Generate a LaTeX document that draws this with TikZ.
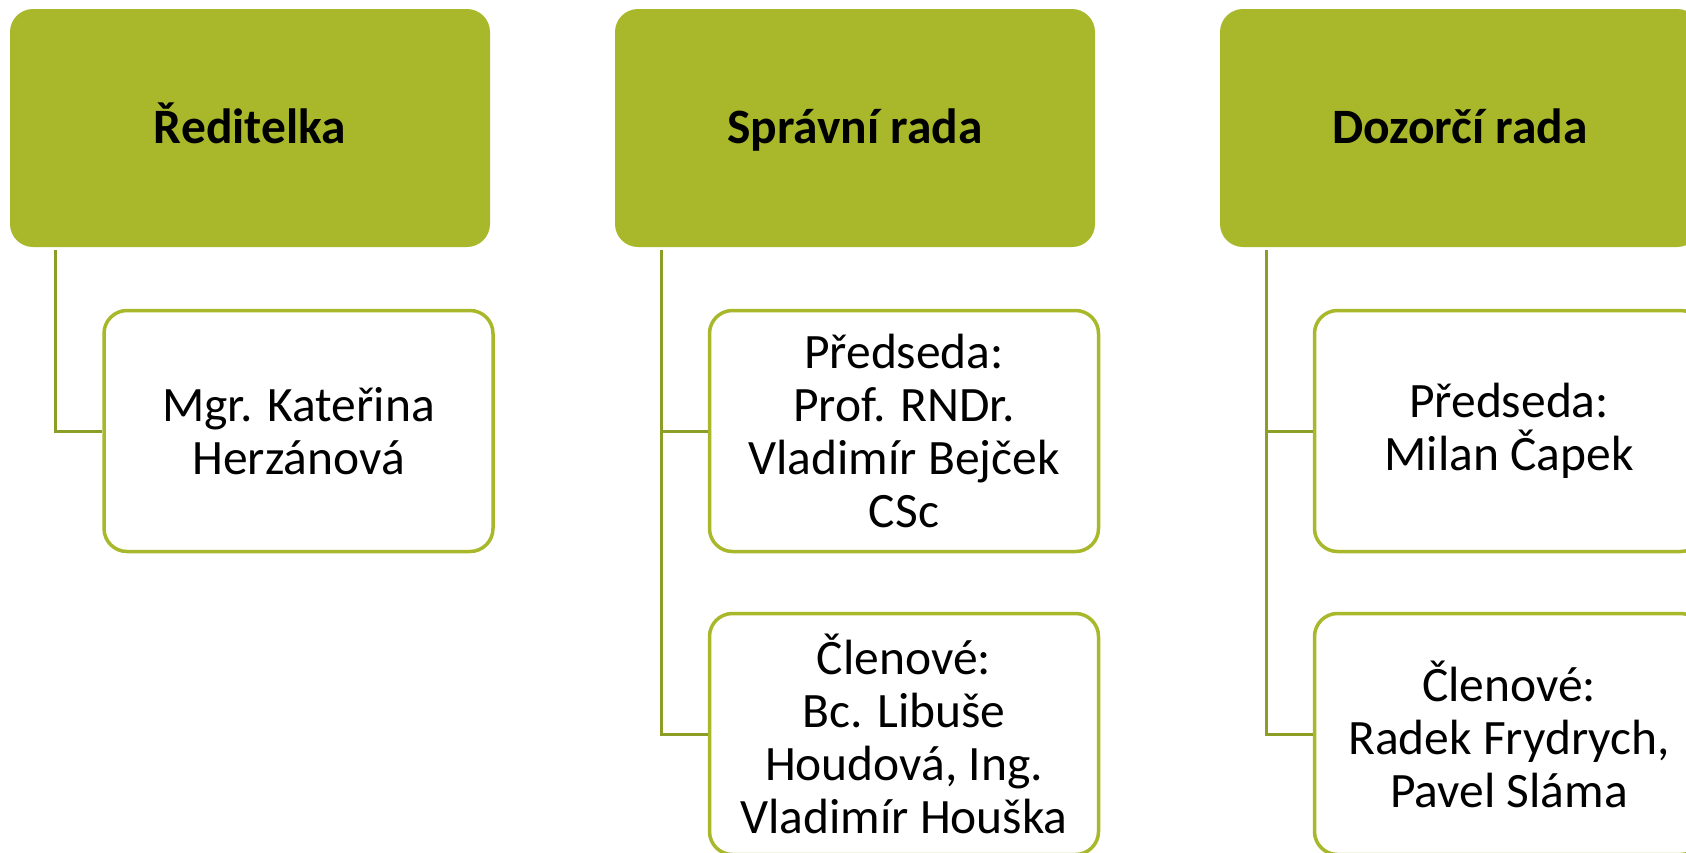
\documentclass[tikz,border=0pt]{standalone}
\usepackage{fontspec}
\setmainfont{Carlito}
\definecolor{gfill}{HTML}{A8B82A}
\definecolor{gline}{HTML}{8C9E25}
\begin{document}
\begin{tikzpicture}[x=1pt,y=-1pt,
  titlebox/.style={draw=none,fill=gfill,rounded corners=23pt,minimum width=480pt,minimum height=238pt,inner sep=0pt,text height=40pt,text depth=10pt,font=\fontsize{49.5}{53}\selectfont\bfseries,align=center},
  childbox/.style={draw=gfill,line width=3.5pt,fill=white,rounded corners=23pt,minimum width=389pt,minimum height=241pt,inner sep=0pt,font=\fontsize{49.5}{53}\selectfont,align=center},
  conn/.style={draw=gline,line width=3pt}]
\useasboundingbox (0,0) rectangle (1686,852);
\clip (0,0) rectangle (1686,852);
% titles
\node[titlebox] (t1) at (250,128) {Ředitelka};
\node[titlebox] (t2) at (855,128) {Správní rada};
\node[titlebox] (t3) at (1460,128) {Dozorčí rada};
% children
\node[childbox] (c1) at (298.5,431) {Mgr. Kateřina\\Herzánová};
\node[childbox] (c2a) at (904,431) {Předseda:\\Prof. RNDr.\\Vladimír Bejček\\CSc};
\node[childbox] (c2b) at (904,734) {Členové:\\Bc. Libuše\\Houdová, Ing.\\Vladimír Houška};
\node[childbox] (c3a) at (1509,431) {Předseda:\\Milan Čapek};
\node[childbox] (c3b) at (1509,734) {Členové:\\Radek Frydrych,\\Pavel Sláma};
% connectors
\coordinate (a1) at ([xshift=46pt,yshift=-3pt]t1.south west);
\coordinate (a2) at ([xshift=47pt,yshift=-3pt]t2.south west);
\coordinate (a3) at ([xshift=47pt,yshift=-3pt]t3.south west);
\draw[conn] (a1) |- (c1.west);
\draw[conn] (a2) |- (c2a.west);
\draw[conn] (a2) |- (c2b.west);
\draw[conn] (a3) |- (c3a.west);
\draw[conn] (a3) |- (c3b.west);
\end{tikzpicture}
\end{document}
